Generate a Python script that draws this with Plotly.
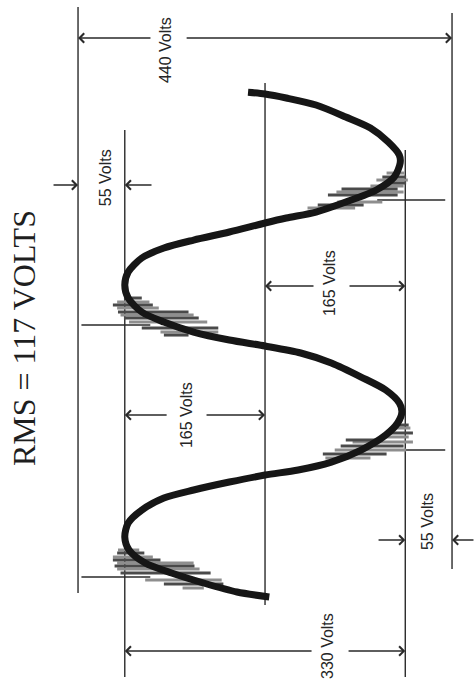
import plotly.graph_objects as go

# ---- data (time in electrical degrees, voltage in volts; + is drawn to the left) ----
wave_t = [0, 7.2, 20.0, 34.4, 48.7, 67.3, 85.9, 105.9, 124.5, 141.7, 153.2, 164.6, 174.6,
          181.8, 193.2, 210.4, 231.9, 249.1, 264.8, 277.7, 296.3, 314.9, 335.0, 349.3, 359.3,
          367.9, 379.3, 393.6, 408.0, 428.0, 446.6, 465.2, 485.3, 499.6, 511.0, 522.5, 535.4,
          542.5, 551.1, 565.4, 582.6, 601.2, 621.3, 632.7, 651.3, 671.3, 687.1, 704.3, 714.3,
          720.0, 722.5]
wave_v = [-5, 33, 72, 110, 141, 160, 165, 161, 145, 119, 84, 42, 0,
          -39, -78, -113, -142, -156, -161, -158, -142, -113, -78, -42, 0,
          42, 84, 119, 145, 161, 165, 161, 145, 119, 84, 42, 0,
          -25, -60, -95, -131, -152, -159, -158, -145, -124, -95, -60, -25,
          0, 20]

hatch_t = [67.3, 63.0, 57.3, 53.0, 48.7, 44.4, 40.1, 34.4, 24.3, 18.6, 12.9,
           428.0, 422.3, 418.0, 413.7, 408.0, 403.7, 399.4, 393.6, 385.1, 379.3, 375.0,
           606.9, 601.2, 596.9, 592.6, 588.3, 584.0, 579.7, 575.4, 565.4, 561.1, 556.8,
           246.2, 241.9, 234.8, 229.1, 224.8, 221.9, 216.2, 210.4, 204.7, 199.0]
hatch_v_from = [173, 174, 179, 179, 174, 177, 174, 170, 141, 119, 97,
                166, 174, 179, 174, 173, 170, 166, 160, 145, 123, 119,
                -143, -138, -131, -145, -124, -90, -84, -74, -85, -62, -50,
                -153, -148, -142, -138, -95, -103, -89, -82, -68, -71]
hatch_v_to = [148, 142, 132, 123, 84, 83, 77, 64, 51, 49, 72,
              145, 136, 132, 125, 90, 84, 78, 68, 55, 55, 90,
              -164, -166, -168, -166, -163, -156, -163, -156, -138, -116, -106,
              -169, -171, -174, -169, -138, -174, -163, -166, -143, -124]

# vertical reference lines: outer limits, peaks, zero
ref_v = [220, -220, 0, 165, -165]
ref_t_from = [5.7, 40.1, -11.5, -114.5, -114.5]
ref_t_to = [844.6, 836.0, 735.8, 668.5, 639.9]

# short horizontal marker lines at the hatched zones
mark_t = [28.6, 389.4, 568.3, 210.4]
mark_v_from = [216, 216, -132, -124]
mark_v_to = [135, 135, -212, -212]

# dimension labels
dim_text = ["440 Volts", "55 Volts", "165 Volts", "165 Volts", "55 Volts", "330 Volts"]
dim_text_v = [117.6, 188.0, -75.3, 92.9, -191.8, -74.1]
dim_text_t = [783.0, 599.8, 449.5, 260.5, 107.4, -70.1]

# dimension arrows (head points at the reference line)
arrow_t = [800.2, 800.2, 589.8, 589.8, 445.2, 445.2, 260.5, 260.5, 81.6, 81.6, -77.3, -77.3]
arrow_head_v = [220, -220, 220, 165, 0, -165, 165, 0, -165, -220, 165, -165]
arrow_tail_v = [133, 94, 250.6, 131.8, -58.8, -97.6, 114, 70.6, -131.8, -247, -56.5, -96.5]

title_text = "RMS = 117 VOLTS"
title_v = 283.5
title_t = 370.7

# ---- figure ----
fig = go.Figure()

xs, ys = [], []
for v, a, b in zip(ref_v, ref_t_from, ref_t_to):
    xs += [v, v, None]
    ys += [a, b, None]
for t, a, b in zip(mark_t, mark_v_from, mark_v_to):
    xs += [a, b, None]
    ys += [t, t, None]
fig.add_trace(go.Scatter(x=xs, y=ys, mode="lines", line=dict(color="#2a2a2a", width=1.4),
                         hoverinfo="skip", showlegend=False))

gx, gy, dx, dy = [], [], [], []
for i, (t, a, b) in enumerate(zip(hatch_t, hatch_v_from, hatch_v_to)):
    if i % 2 == 0:
        gx += [a, b, None]; gy += [t, t, None]
    else:
        dx += [a, b, None]; dy += [t, t, None]
fig.add_trace(go.Scatter(x=gx, y=gy, mode="lines", line=dict(color="#8e8e8e", width=3),
                         hoverinfo="skip", showlegend=False))
fig.add_trace(go.Scatter(x=dx, y=dy, mode="lines", line=dict(color="#4a4a4a", width=3),
                         hoverinfo="skip", showlegend=False))

fig.add_trace(go.Scatter(x=wave_v, y=wave_t, mode="lines",
                         line=dict(color="#161616", width=7, shape="spline", smoothing=0.8),
                         hoverinfo="skip", showlegend=False))

annotations = []
for t, h, tl in zip(arrow_t, arrow_head_v, arrow_tail_v):
    annotations.append(dict(x=h, y=t, ax=tl, ay=t, xref="x", yref="y", axref="x", ayref="y",
                            text="", showarrow=True, arrowhead=4, arrowsize=1.3,
                            arrowwidth=1.4, arrowcolor="#2a2a2a", standoff=0))
for txt, v, t in zip(dim_text, dim_text_v, dim_text_t):
    annotations.append(dict(x=v, y=t, xref="x", yref="y", text=txt, showarrow=False,
                            textangle=-90, xanchor="center", yanchor="middle",
                            font=dict(family="Liberation Sans, Arial, sans-serif", size=16,
                                      color="#262626")))
annotations.append(dict(x=title_v, y=title_t, xref="x", yref="y", text=title_text,
                        showarrow=False, textangle=-90, xanchor="center", yanchor="middle",
                        font=dict(family="Liberation Serif, Times New Roman, serif", size=32,
                                  color="#1e1e1e")))

fig.update_layout(
    width=476, height=687,
    margin=dict(l=0, r=0, t=0, b=0),
    paper_bgcolor="white", plot_bgcolor="white",
    xaxis=dict(range=[311.8, -248.2], visible=False, fixedrange=True),
    yaxis=dict(range=[-128.8, 854.6], visible=False, fixedrange=True),
    annotations=annotations,
    showlegend=False,
    hovermode=False,
)

# remove the default page margin so the figure fills the window exactly
fig.write_html("out.html",
               config={"displayModeBar": False, "staticPlot": True},
               post_script="document.body.style.margin='0px';document.body.style.overflow='hidden';")
